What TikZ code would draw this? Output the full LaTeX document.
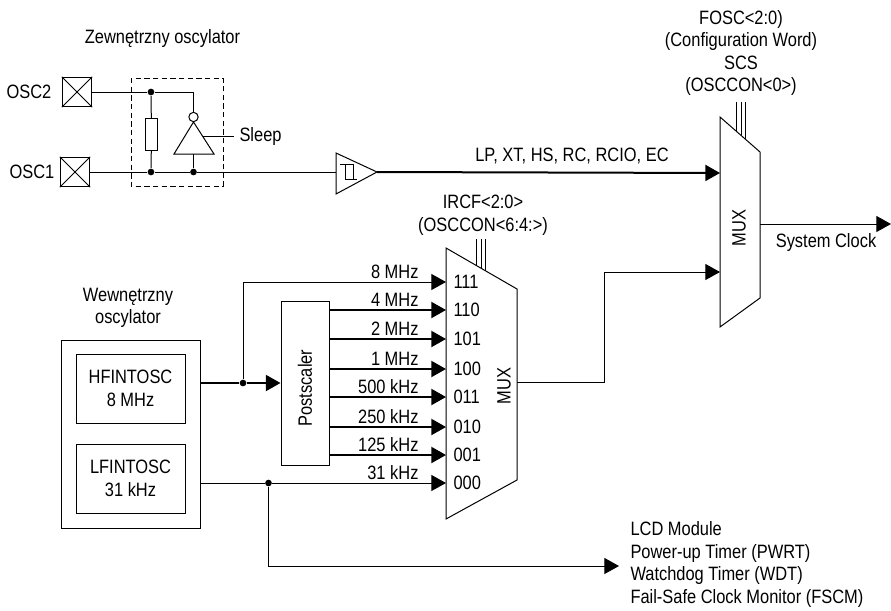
\documentclass[tikz,border=0pt]{standalone}
\usepackage{fontspec}
\setmainfont[FakeStretch=0.85]{Liberation Sans}
\usetikzlibrary{arrows.meta}
\tikzset{%
  >={Triangle[width=12pt,length=11pt]},
  % Specifications for style of nodes:
            base/.style = {rectangle, draw=black, inner sep=0pt, align=center},
            pad/.style = {base, minimum width=22pt, minimum height=22pt},
            oscbox/.style = {base, minimum width=81.75pt, minimum height=51.75pt},
            dot/.style = {circle, fill=black, inner sep=0pt, minimum size=5pt},
            caption/.style = {align=center, inner sep=0pt},
            bus/.style = {line width=1.5pt},
}

\begin{document}
\begin{tikzpicture}[x=.75pt, y=-.75pt, line width=.75pt,
    every node/.style={font=\fontsize{14.5}{16.9}\selectfont}]
  \useasboundingbox (0,0) rectangle (891,610);
  % Specification of nodes (position, etc.)

  \node (title ext)		[caption] at (162.5,39) {Zewnętrzny oscylator};
  \node (osc2)			[pad] at (77,92) {};
  \node (osc1)			[pad] at (75,172) {};
  \node (osc2 text)		[caption] at (29,92) {OSC2};
  \node (osc1 text)		[caption] at (32,172) {OSC1};
  \node (dot a)			[dot] at (151,92) {};
  \node (dot b)			[dot] at (151,172) {};
  \node (dot c)			[dot] at (193.5,172) {};
  \node (resistor)		[base, minimum width=8.5pt, minimum height=23.5pt] at (151.5,134.5) {};
  \node (bubble)		[circle, draw=black, inner sep=0pt, minimum size=7pt] at (193.5,117) {};
  \node (sleep)			[caption, anchor=west] at (239,137) {Sleep};
  \coordinate (inv apex)	at (193.5,122);
  \coordinate (inv left)	at (174,154);
  \coordinate (inv right)	at (214,154);
  \coordinate (inv base)	at (193.5,154);
  \coordinate (inv side)	at (203,136);
  \coordinate (sleep end)	at (234,136);
  \coordinate (buf in)		at (336,172);
  \coordinate (buf top)		at (336,153);
  \coordinate (buf bottom)	at (336,194);
  \coordinate (buf out)		at (377,172);

  \coordinate (sw tl)		at (720,117);
  \coordinate (sw tr)		at (760,152);
  \coordinate (sw br)		at (760,298);
  \coordinate (sw bl)		at (720,327);
  \coordinate (sw in a)		at (720,173);
  \coordinate (sw in b)		at (720,272);
  \coordinate (sw out)		at (760,224);
  \coordinate (clock)		at (891,224);
  \node (sw mux)		[caption] at (739,228) {\rotatebox{90}{MUX}};
  \node (sw text)		[caption] at (741,53) {FOSC<2:0)\\(Configuration Word)\\SCS\\(OSCCON<0>)};
  \node (lp text)		[caption] at (572,156) {LP, XT, HS, RC, RCIO, EC};
  \node (clock text)		[caption] at (826,242) {System Clock};

  \coordinate (fr tl)		at (446,248);
  \coordinate (fr tr)		at (517,289);
  \coordinate (fr br)		at (517,480);
  \coordinate (fr bl)		at (446,519);
  \coordinate (fr out)		at (517,382);
  \coordinate (fr bend)		at (604,382);
  \node (fr mux)		[caption] at (504,386) {\rotatebox{90}{MUX}};
  \node (fr text)		[caption] at (483,215) {IRCF<2:0>\\(OSCCON<6:4:>)};

  \node (title int)		[caption] at (128,308) {Wewnętrzny\\oscylator};
  \node (int box)		[base, minimum width=104.25pt, minimum height=141pt] at (130.5,434) {};
  \node (hf)			[oscbox] at (130.5,388.5) {HFINTOSC\\8 MHz};
  \node (lf)			[oscbox] at (130.5,478.5) {LFINTOSC\\31 kHz};
  \node (postscaler)		[base, minimum width=36pt, minimum height=123pt] at (305,383) {};
  \node (postscaler text)	[caption] at (305,388) {\rotatebox{90}{Postscaler}};
  \node (dot hf)		[dot] at (243,383) {};
  \node (dot lf)		[dot] at (268.5,483) {};
  \coordinate (wdt corner)	at (268.5,566);
  \coordinate (wdt end)		at (619,566);
  \node (peripherals)		[caption, align=left, anchor=west] at (630,564.5) {LCD Module\\Power-up Timer (PWRT)\\Watchdog Timer (WDT)\\Fail-Safe Clock Monitor (FSCM)};

  % inputs of the frequency mux
  \foreach \code/\yy/\freq in {111/282/8 MHz, 110/310/4 MHz, 101/339/2 MHz, 100/369/1 MHz,
      011/397/500 kHz, 010/427/250 kHz, 001/455/125 kHz, 000/483/31 kHz} {
    \coordinate (in\code)	at (446,\yy);
    \node (code\code)		[caption, anchor=west] at (453,\yy) {\code};
    \node (freq\code)		[caption, anchor=base east] at (419,\yy-4) {\freq};
  }

  % pads
  \foreach \pad in {osc2,osc1} {
    \draw (\pad.north west) -- (\pad.south east);
    \draw (\pad.south west) -- (\pad.north east);
  }

  % external oscillator
  \draw[dashed, dash pattern=on 4pt off 2.5pt]	(131,78) rectangle (223,186);
  \draw (osc2) ++(11pt,0) -- (dot a) -| (bubble);
  \draw (osc1) ++(11pt,0) -- (dot b) -- (dot c) -- (buf in);
  \draw (dot a) -- (resistor);
  \draw (resistor) -- (dot b);
  \draw (inv apex) -- (inv left) -- (inv right) -- cycle;
  \draw (inv base) -- (dot c);
  \draw (inv side) -- (sleep end);

  % schmitt buffer
  \draw[line join=miter] (buf top) -- (buf out) -- (buf bottom) -- cycle;
  \draw (340,164.5) -- (353,164.5) -- (353,179.5);
  \draw (345,164.5) -- (345,179.5) -- (357,179.5);
  \draw[->, bus] (buf out) -- (sw in a);

  % muxes
  \draw (sw tl) -- (sw tr) -- (sw br) -- (sw bl) -- cycle;
  \draw (fr tl) -- (fr tr) -- (fr br) -- (fr bl) -- cycle;
  \foreach \x/\yy in {736/131,741/135,745/139} {
    \draw[line width=.6pt] (\x,102) -- (\x,\yy);
  }
  \foreach \x/\yy in {476/265,481/268,485/270.5} {
    \draw[line width=.6pt] (\x,239) -- (\x,\yy);
  }
  \draw[->] (sw out) -- (clock);
  \draw[->] (fr out) -- (fr bend) |- (sw in b);

  % internal oscillator
  \draw[bus] (int box.east |- dot hf) -- (dot hf);
  \draw[->, bus] (dot hf) -- (postscaler.west);
  \draw[->] (dot hf) |- (in111);
  \foreach \code in {110,101,100,011,010,001} {
    \draw[->, bus] (postscaler.east |- in\code) -- (in\code);
  }
  \draw (int box.east |- dot lf) -- (dot lf);
  \draw[->] (dot lf) -- (in000);
  \draw[->] (dot lf) -- (wdt corner) -- (wdt end);

  \end{tikzpicture}
\end{document}
